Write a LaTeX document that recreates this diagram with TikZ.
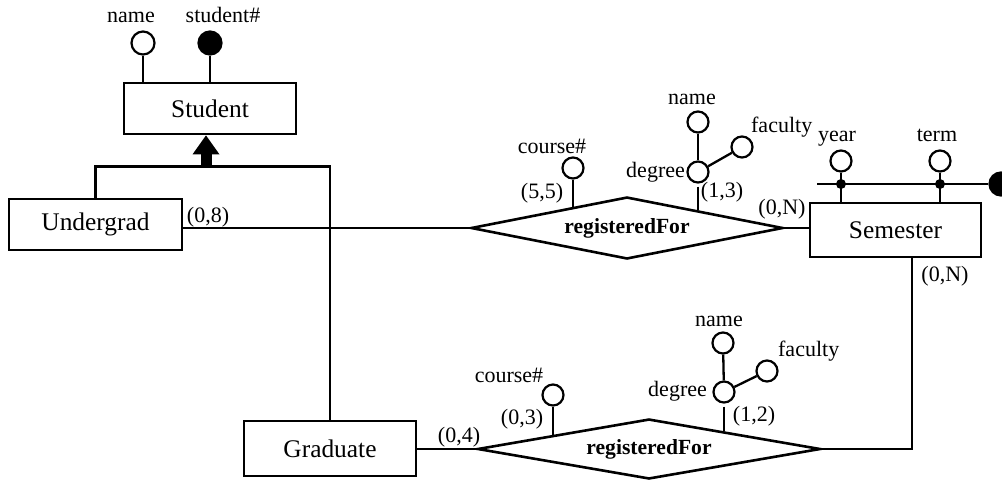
\documentclass[tikz,border=0pt]{standalone}
\usepackage{fontspec}
\setmainfont{Liberation Serif}
\usetikzlibrary{shapes.geometric,calc}
\begin{document}
\begin{tikzpicture}[x=0.5pt,y=-0.5pt, line width=1.15pt,
  ent/.style={draw, line width=1.4pt, rectangle, inner sep=0pt, font=\fontsize{12.7}{14}\selectfont},
  rel/.style={draw, line width=1.3pt, diamond, aspect=5, inner sep=0pt, font=\fontsize{10.8}{12}\selectfont\bfseries},
  attr/.style={draw, circle, line width=1.1pt, inner sep=0pt, minimum size=10.5pt, fill=white},
  keyattr/.style={attr, fill=black},
  lbl/.style={inner sep=0pt, font=\fontsize{11}{13}\selectfont, anchor=base},
  dot/.style={circle, fill=black, inner sep=0pt, minimum size=5pt}]
\useasboundingbox (0,0) rectangle (1002,479);

% entities and relationships
\node[ent, minimum width=86pt, minimum height=25.5pt] (student) at (210,108.5) {Student};
\node[ent, minimum width=86.5pt, minimum height=25.5pt] (ug) at (95.5,224.5) {Undergrad};
\node[ent, minimum width=86pt, minimum height=27.5pt] (grad) at (330,448.5) {Graduate};
\node[ent, minimum width=85.5pt, minimum height=27pt] (sem) at (895.5,230) {Semester};
\node[rel, minimum width=156pt, minimum height=31pt] (rf1) at (627,228) {registeredFor};
\node[rel, minimum width=171.5pt, minimum height=30pt] (rf2) at (649,449) {registeredFor};

% Student attributes
\node[attr, minimum size=11.5pt] (sname) at (143,43) {};
\node[keyattr, minimum size=11.5pt] (sid) at (210,43) {};
\node[lbl] (snamel) at (131,22) {name};
\node[lbl] (sidl) at (223,22) {student\#};
\draw (sname) -- (sname |- student.north);
\draw (sid) -- (sid |- student.north);

% inheritance
\coordinate (tip) at ($(student.south)+(-4,0)$);
\coordinate (hub) at ($(tip)+(0,31)$);
\fill (tip) -- ++(13.5,19) -- ++(-27,0) -- cycle;
\fill ($(tip)+(-5.5,18)$) rectangle ($(hub)+(5.5,0)$);
\draw (ug.north) |- (hub) -| (grad.north);

% upper relationship
\draw (rf1.west) -- (rf1.west -| ug.east);
\draw (rf1.east) -- (rf1.east -| sem.west);
\node[lbl] (c08) at (208,222) {(0,8)};
\node[lbl] (c0n1) at (782,214) {(0,N)};

\coordinate (e1) at ($(rf1.west)!0.654!(rf1.north)$);
\node[attr] (c1) at (573,168) {};
\draw (c1) -- (c1 |- e1);
\node[lbl] (c1l) at (552,153) {course\#};
\node[lbl] (c55) at (542,198) {(5,5)};

\coordinate (e2) at ($(rf1.north)!0.455!(rf1.east)$);
\node[attr] (d1) at (698,172) {};
\node[attr] (n1) at (698,122) {};
\node[attr] (f1) at (742,147) {};
\draw[shorten <=1.5pt] (d1) -- (d1 |- e2);
\draw (n1) -- (d1);
\draw (d1) -- (f1);
\node[lbl, anchor=base east] (d1l) at (686,177) {degree};
\node[lbl] (n1l) at (692,104) {name};
\node[lbl, anchor=base west] (f1l) at (750,132) {faculty};
\node[lbl] (c13) at (722,197) {(1,3)};

% Semester key
\node[attr] (yr) at (841,161) {};
\node[attr] (tm) at (940,161) {};
\coordinate (kl) at (817,184);
\node[keyattr, minimum size=11.5pt] (key) at (1001,184) {};
\draw (kl) -- (key);
\draw (yr) -- (yr |- sem.north);
\draw (tm) -- (tm |- sem.north);
\node[dot] (yd) at (yr |- kl) {};
\node[dot] (td) at (tm |- kl) {};
\node[lbl] (yrl) at (837,141) {year};
\node[lbl] (tml) at (937,141) {term};

% lower relationship
\coordinate (sd) at ($(sem.south)+(16.5,0)$);
\draw (sd) |- (rf2.east);
\node[lbl] (c0n2) at (945,281) {(0,N)};
\draw (rf2.west) -- (rf2.west -| grad.east);
\node[lbl] (c04) at (459,442) {(0,4)};

\coordinate (e3) at ($(rf2.west)!0.44!(rf2.north)$);
\node[attr] (c2) at (553,395) {};
\draw (c2) -- (c2 |- e3);
\node[lbl] (c2l) at (509,382) {course\#};
\node[lbl] (c03) at (522,424) {(0,3)};

\coordinate (e4) at ($(rf2.north)!0.437!(rf2.east)$);
\node[attr] (d2) at (724,392) {};
\node[attr] (n2) at (723,343) {};
\node[attr] (f2) at (767,371) {};
\draw[shorten <=1.5pt] (d2) -- (d2 |- e4);
\draw (n2) -- (d2);
\draw (d2) -- (f2);
\node[lbl, anchor=base east] (d2l) at (708,396) {degree};
\node[lbl] (n2l) at (719,326) {name};
\node[lbl, anchor=base west] (f2l) at (777,356) {faculty};
\node[lbl] (c12) at (754,421) {(1,2)};
\end{tikzpicture}
\end{document}
